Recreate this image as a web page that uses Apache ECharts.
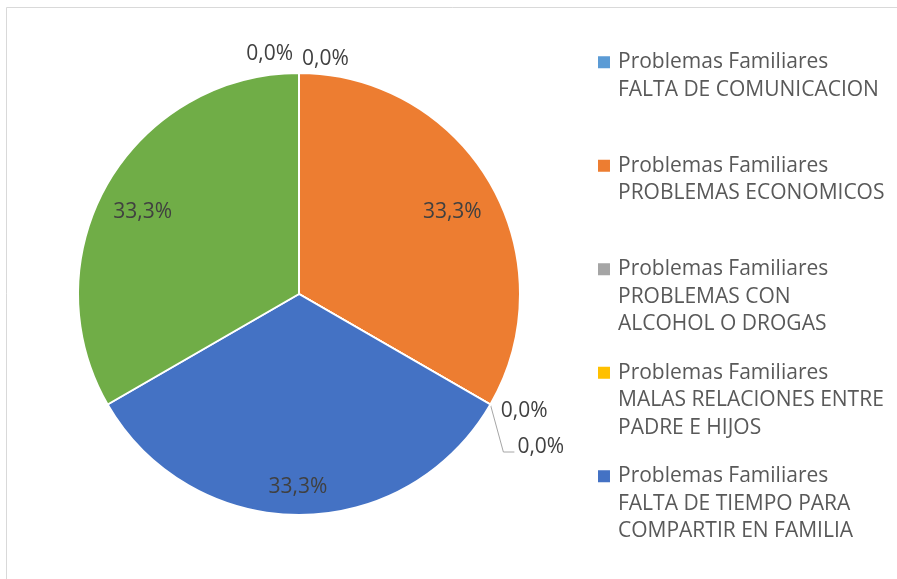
<!DOCTYPE html>
<html>
<head>
<meta charset="utf-8">
<script src="https://cdn.jsdelivr.net/npm/echarts@6/dist/echarts.min.js"></script>
<style>
html,body{margin:0;padding:0;background:#fff;}
#chart{width:897px;height:579px;}
</style>
</head>
<body>
<div id="chart"></div>
<script>
// ---- data ----
var categories = [
  'Problemas Familiares FALTA DE COMUNICACION',
  'Problemas Familiares PROBLEMAS ECONOMICOS',
  'Problemas Familiares PROBLEMAS CON ALCOHOL O DROGAS',
  'Problemas Familiares MALAS RELACIONES ENTRE PADRE E HIJOS',
  'Problemas Familiares FALTA DE TIEMPO PARA COMPARTIR EN FAMILIA',
  'Problemas Familiares OTROS',
  'Problemas Familiares NINGUNO'
];
var values = [0, 1, 0, 0, 1, 1, 0];
var legendLabels = [
  'Problemas Familiares\nFALTA DE COMUNICACION\n ',
  'Problemas Familiares\nPROBLEMAS ECONOMICOS\n ',
  'Problemas Familiares\nPROBLEMAS CON\nALCOHOL O DROGAS',
  'Problemas Familiares\nMALAS RELACIONES ENTRE\nPADRE E HIJOS',
  'Problemas Familiares\nFALTA DE TIEMPO PARA\nCOMPARTIR EN FAMILIA'
];
var legendCount = 5;

// ---- styles ----
var colors = ['#5B9BD5', '#ED7D31', '#A5A5A5', '#FFC000', '#4472C4', '#70AD47', '#264478'];
var FONT = '"Open Sans"';
// label placement tweaks (Excel best-fit positions)
var labelOffsets = {
  0: [8, 2],
  1: [55, -25],
  2: [1, 4],
  3: [-2, 35],
  4: [-1, 80],
  5: [-58, -25],
  6: [-1, -2.5]
};
var labelLineCfg = {
  0: {show: false, length: 16, length2: 0},
  2: {show: false, length: 5, length2: 0},
  3: {show: true, length: 15, length2: 11},
  6: {show: false, length: 16, length2: 0}
};

var legendMap = {};
categories.forEach(function (c, i) { if (i < legendCount) legendMap[c] = legendLabels[i]; });

var pieData = categories.map(function (c, i) {
  var item = {name: c, value: values[i]};
  if (values[i] > 0) {
    item.label = {position: 'inside'};
    item.labelLine = {show: false};
  } else {
    item.label = {position: 'outside'};
    item.labelLine = labelLineCfg[i] || {show: false};
  }
  return item;
});

var chart = echarts.init(document.getElementById('chart'), null, {renderer: 'canvas'});
chart.setOption({
  animation: false,
  backgroundColor: '#ffffff',
  color: colors,
  textStyle: {fontFamily: FONT},
  graphic: [{
    type: 'rect',
    shape: {x: 6.5, y: 7.5, width: 2000, height: 2000},
    style: {fill: 'none', stroke: '#d9d9d9', lineWidth: 1},
    silent: true
  }],
  legend: {
    orient: 'vertical',
    left: 598,
    top: 48.5,
    padding: 0,
    itemGap: 21,
    itemWidth: 15,
    itemHeight: 82,
    icon: 'path://M0,7.5L12,7.5L12,19.5L0,19.5Z M0,0L0.01,0 M15,82L15.01,82',
    itemStyle: {borderWidth: 0},
    data: categories.slice(0, legendCount),
    formatter: function (name) { return legendMap[name] || name; },
    textStyle: {
      fontFamily: FONT,
      fontSize: 21,
      lineHeight: 27.5,
      color: '#595959'
    },
    selectedMode: false
  },
  series: [{
    type: 'pie',
    center: [299, 294],
    radius: 221,
    startAngle: 90,
    clockwise: true,
    avoidLabelOverlap: false,
    minShowLabelAngle: 0,
    itemStyle: {borderColor: '#ffffff', borderWidth: 2},
    label: {
      show: true,
      fontFamily: FONT,
      fontSize: 21,
      color: '#404040',
      formatter: function (p) { return p.percent.toFixed(1).replace('.', ',') + '%'; }
    },
    labelLine: {
      lineStyle: {color: '#a6a6a6', width: 1},
      smooth: false
    },
    labelLayout: function (params) {
      var i = params.dataIndex;
      var o = labelOffsets[i] || [0, 0];
      var res = {dx: o[0], dy: o[1]};
      if (i === 0) { res.align = 'left'; }
      if (i === 3 && params.labelLinePoints && params.labelRect) {
        var r = params.labelRect;
        var p0 = params.labelLinePoints[0];
        var lx = r.x + o[0] - 3;
        var ly = r.y + o[1] + r.height / 2 + 5;
        res.labelLinePoints = [[p0[0], p0[1]], [lx - 11, ly], [lx, ly]];
      }
      return res;
    },
    emphasis: {disabled: true},
    data: pieData
  }]
});
</script>
</body>
</html>
